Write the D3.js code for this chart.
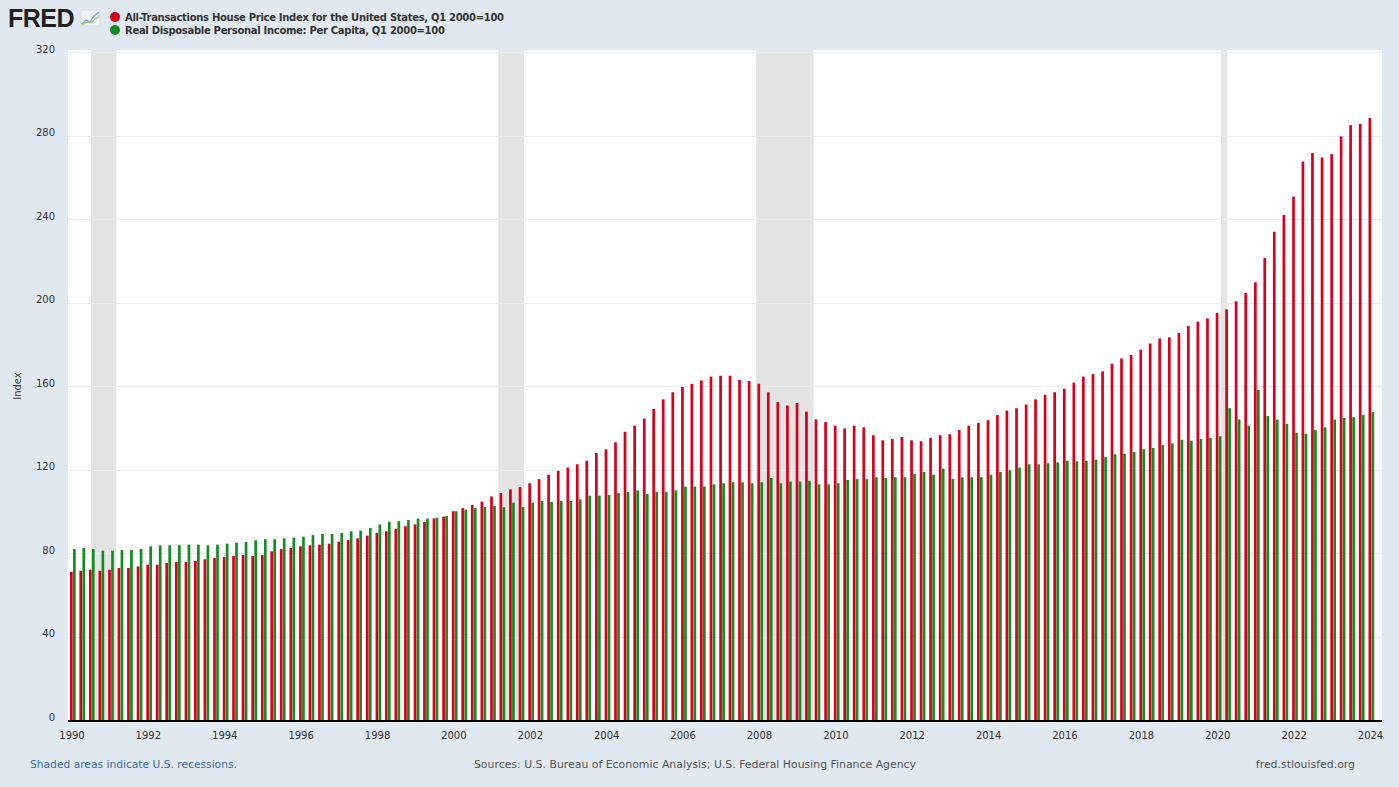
<!DOCTYPE html>
<html>
<head>
<meta charset="utf-8">
<script src="https://cdn.jsdelivr.net/npm/d3@7"></script>
<style>
  body { margin: 0; background: #e1e9f0; }
  svg { display: block; }
</style>
</head>
<body>
<div id="chart"></div>
<script>
// quarterly, 1990 Q1 .. 2024 Q1
const startYear = 1990;

const housePrice = [
  71.0, 71.5, 72.0, 71.5,   72.0, 72.8, 72.8, 73.6,   74.4, 74.4, 75.2, 75.7,
  75.7, 76.2, 77.0, 77.6,   78.1, 78.6, 79.0, 78.6,   79.0, 80.8, 81.9, 82.4,
  83.2, 83.7, 84.0, 84.5,   85.4, 86.2, 87.0, 88.3,   89.6, 90.4, 91.6, 92.8,
  93.7, 94.9, 96.6, 97.4,   100.0, 101.5, 103.0, 104.6, 107.1, 108.7, 110.5, 111.6,
  113.4, 115.4, 117.5, 119.3, 120.9, 122.5, 124.2, 127.9, 129.7, 133.0, 138.1, 141.0,
  144.4, 149.0, 153.6, 157.0, 159.5, 161.0, 162.7, 164.5, 164.9, 164.9, 162.9, 162.4,
  161.1, 157.0, 152.3, 150.7, 151.9, 147.7, 144.0, 142.8, 141.0, 139.7, 141.0, 140.2,
  136.4, 134.0, 134.6, 135.6, 134.0, 133.5, 135.1, 136.4, 136.9, 138.9, 141.0, 142.3,
  143.6, 146.1, 148.2, 149.3, 151.1, 153.6, 155.8, 157.0, 158.7, 161.6, 164.5, 165.7,
  167.0, 170.7, 173.2, 174.9, 177.4, 180.4, 182.8, 183.3, 185.4, 188.7, 190.8, 192.4,
  195.0, 196.7, 200.6, 204.6, 209.7, 221.3, 233.9, 241.9, 250.7, 267.5, 271.6, 269.5,
  271.1, 279.6, 285.0, 285.5, 288.4
];

const income = [
  81.9, 82.4, 81.9, 81.1,   81.1, 81.4, 81.4, 81.9,   83.2, 83.7, 83.7, 83.7,
  84.0, 84.0, 83.7, 84.0,   84.5, 84.9, 85.3, 86.1,   86.6, 86.6, 87.0, 87.3,
  87.8, 88.6, 89.1, 89.1,   89.6, 90.4, 90.7, 92.0,   93.7, 95.0, 95.3, 95.8,
  96.5, 96.5, 96.9, 97.7,   100.0, 100.8, 101.5, 102.0, 102.5, 102.0, 104.1, 102.0,
  104.1, 104.9, 104.4, 104.9, 104.9, 105.7, 107.5, 107.5, 107.8, 108.7, 109.2, 110.0,
  108.3, 109.2, 109.2, 110.0, 111.8, 111.8, 111.8, 112.9, 113.4, 113.9, 113.9, 113.4,
  113.9, 115.9, 113.4, 114.2, 114.2, 114.6, 112.9, 112.9, 113.4, 115.0, 115.4, 115.4,
  116.3, 115.9, 116.3, 116.3, 117.8, 118.8, 117.5, 120.4, 115.4, 116.3, 116.3, 116.3,
  117.5, 118.8, 119.6, 120.9, 122.5, 122.5, 123.0, 123.4, 124.2, 123.9, 124.2, 124.7,
  126.0, 127.3, 127.6, 128.4, 129.7, 130.4, 131.7, 132.5, 134.3, 133.8, 134.6, 135.1,
  135.9, 149.4, 144.0, 141.0, 158.1, 145.6, 143.9, 141.9, 137.6, 137.1, 138.9, 140.2,
  143.9, 144.7, 145.1, 146.1, 147.5
];

const recessions = [
  ["1990-07-01", "1991-03-01"],
  ["2001-03-01", "2001-11-01"],
  ["2007-12-01", "2009-06-01"],
  ["2020-02-01", "2020-04-01"]
];

const yTicks = [0, 40, 80, 120, 160, 200, 240, 280, 320];
const xTickYears = d3.range(1990, 2025, 2);

const seriesNames = [
  "All-Transactions House Price Index for the United States, Q1 2000=100",
  "Real Disposable Personal Income: Per Capita, Q1 2000=100"
];
const colors = ["#d7001d", "#138c21"];

const width = 1399, height = 787;
const font = "Verdana, 'DejaVu Sans', sans-serif";

const quarters = housePrice.map((v, i) => ({
  date: new Date(startYear + Math.floor(i / 4), (i % 4) * 3, 1),
  hpi: v,
  inc: income[i]
}));

const svg = d3.select("#chart").append("svg")
  .attr("width", width)
  .attr("height", height);

svg.append("rect").attr("width", width).attr("height", height).attr("fill", "#e1e9f0");

const plot = { left: 68, right: 1382, top: 52, bottom: 720 };

const x = d3.scaleTime()
  .domain([new Date(1990, 0, 1), new Date(2024, 0, 1)])
  .range([72, 1370.5]);

const y = d3.scaleLinear()
  .domain([0, 320])
  .range([plot.bottom, plot.top]);

svg.append("rect")
  .attr("x", plot.left).attr("y", plot.top - 2)
  .attr("width", plot.right - plot.left).attr("height", plot.bottom - plot.top + 2)
  .attr("fill", "#fff");

// recession shading
svg.append("g").selectAll("rect")
  .data(recessions)
  .enter().append("rect")
  .attr("x", d => x(new Date(d[0])))
  .attr("width", d => x(new Date(d[1])) - x(new Date(d[0])))
  .attr("y", plot.top - 2)
  .attr("height", plot.bottom - plot.top + 2)
  .attr("fill", "#e4e4e4");

// gridlines + y labels
const yAxis = svg.append("g");
yAxis.selectAll("line")
  .data(yTicks.filter(d => d > 0))
  .enter().append("line")
  .attr("x1", plot.left).attr("x2", plot.right)
  .attr("y1", d => Math.round(y(d)) + 0.5).attr("y2", d => Math.round(y(d)) + 0.5)
  .attr("stroke", "#ececec");
yAxis.selectAll("text")
  .data(yTicks)
  .enter().append("text")
  .attr("x", 55)
  .attr("y", d => y(d) + 0.5)
  .attr("text-anchor", "end")
  .attr("font-family", font)
  .attr("font-size", 10)
  .attr("fill", "#333")
  .text(d => d);

svg.append("text")
  .attr("transform", "translate(21," + 386 + ") rotate(-90)")
  .attr("text-anchor", "middle")
  .attr("font-family", font)
  .attr("font-size", 10)
  .attr("fill", "#333")
  .text("Index");

// bars
const bars = svg.append("g");
bars.selectAll("rect.hpi")
  .data(quarters)
  .enter().append("rect")
  .attr("class", "hpi")
  .attr("x", d => x(d.date) - 2)
  .attr("width", 2.7)
  .attr("y", d => y(d.hpi))
  .attr("height", d => y(0) - y(d.hpi))
  .attr("fill", colors[0]);
bars.selectAll("rect.inc")
  .data(quarters)
  .enter().append("rect")
  .attr("class", "inc")
  .attr("x", d => x(d.date) + 1)
  .attr("width", 2.7)
  .attr("y", d => y(d.inc))
  .attr("height", d => y(0) - y(d.inc))
  .attr("fill", colors[1]);

// x axis
svg.append("line")
  .attr("x1", plot.left).attr("x2", plot.right)
  .attr("y1", plot.bottom + 1).attr("y2", plot.bottom + 1)
  .attr("stroke", "#000").attr("stroke-width", 2);

svg.append("g").selectAll("text")
  .data(xTickYears)
  .enter().append("text")
  .attr("x", d => x(new Date(d, 0, 1)))
  .attr("y", 739)
  .attr("text-anchor", "middle")
  .attr("font-family", font)
  .attr("font-size", 10)
  .attr("fill", "#333")
  .text(d => d);

// logo
svg.append("text")
  .attr("x", 8).attr("y", 27)
  .attr("font-family", "'Liberation Sans', Arial, sans-serif")
  .attr("font-weight", 900)
  .attr("font-size", 25)
  .attr("letter-spacing", -0.5)
  .attr("fill", "#231f20")
  .text("FRED");
const icon = svg.append("g").attr("transform", "translate(81,10)");
icon.append("rect").attr("width", 19).attr("height", 16).attr("fill", "#eef2f6").attr("stroke", "#d3dbe3");
icon.append("path").attr("d", "M1,14 L5,10 L9,12 L13,6 L18,2").attr("fill", "none").attr("stroke", "#7fa3cc").attr("stroke-width", 1.2);
icon.append("path").attr("d", "M1,15 L6,12 L10,13 L14,9 L18,7").attr("fill", "none").attr("stroke", "#9cc77c").attr("stroke-width", 1.2);

// legend
const legend = svg.append("g").selectAll("g")
  .data(seriesNames)
  .enter().append("g")
  .attr("transform", (d, i) => "translate(115," + (17 + i * 13) + ")");
legend.append("circle").attr("r", 5).attr("fill", (d, i) => colors[i]);
legend.append("text")
  .attr("x", 10).attr("y", 4)
  .attr("font-family", font)
  .attr("font-weight", "bold")
  .attr("font-size", 10)
  .attr("letter-spacing", -0.3)
  .attr("fill", "#333")
  .text(d => d);

// footer
svg.append("text")
  .attr("x", 30).attr("y", 768)
  .attr("font-family", font).attr("font-size", 10.7)
  .attr("fill", "#3b6db0")
  .text("Shaded areas indicate U.S. recessions.");
svg.append("text")
  .attr("x", 695).attr("y", 768)
  .attr("text-anchor", "middle")
  .attr("font-family", font).attr("font-size", 10.9)
  .attr("fill", "#555")
  .text("Sources: U.S. Bureau of Economic Analysis; U.S. Federal Housing Finance Agency");
svg.append("text")
  .attr("x", 1355).attr("y", 768)
  .attr("text-anchor", "end")
  .attr("font-family", font).attr("font-size", 10.9)
  .attr("fill", "#555")
  .text("fred.stlouisfed.org");
</script>
</body>
</html>
